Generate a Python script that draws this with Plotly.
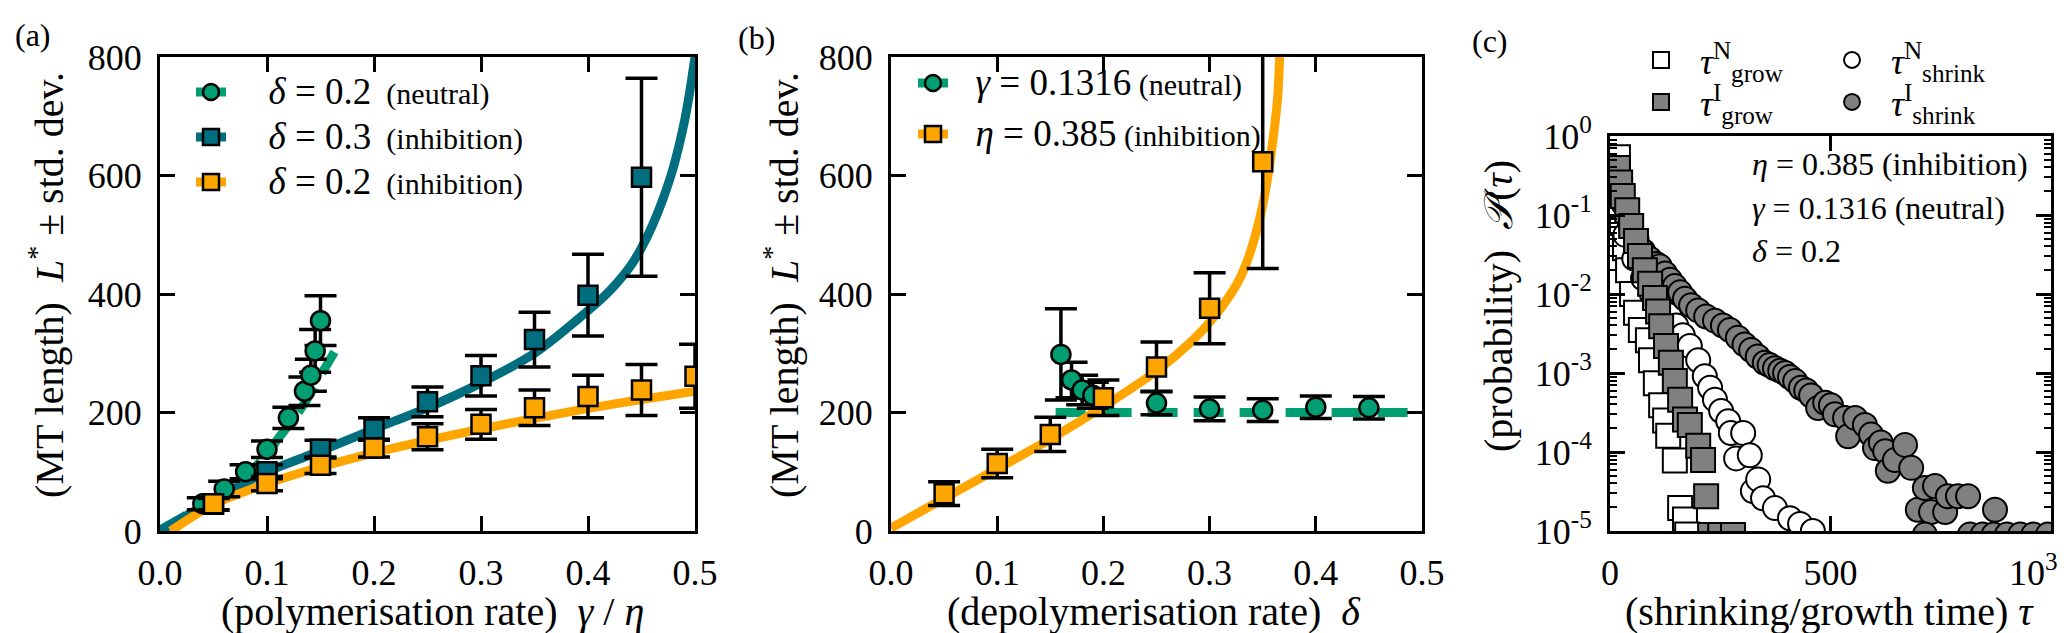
import plotly.graph_objects as go

FONT = "Liberation Serif"
GREEN = "#009e73"
TEAL = "#006e7f"
ORANGE = "#ffa500"
GREY = "#808080"

# ---- panel (a): L* vs gamma/eta ----
a_neu_x = [0.04, 0.06, 0.08, 0.10, 0.12, 0.135, 0.141, 0.145, 0.15]
a_neu_y = [46, 71, 100, 138, 191, 236, 263, 304, 355]
a_neu_err = [10, 13, 12, 14, 18, 24, 27, 36, 42]
a_neu_fit_x = [0, 0.02, 0.04, 0.06, 0.08, 0.10, 0.11, 0.12, 0.13, 0.14, 0.15, 0.163]
a_neu_fit_y = [2, 22, 44, 66, 92, 130, 155, 178, 202, 230, 262, 302]

a_inh3_x = [0.05, 0.10, 0.15, 0.20, 0.25, 0.30, 0.35, 0.40, 0.45]
a_inh3_y = [45, 100, 138, 172, 218, 262, 323, 398, 597]
a_inh3_err = [10, 12, 15, 19, 25, 34, 46, 69, 167]
a_inh3_fit_x = [0, 0.05, 0.10, 0.15, 0.20, 0.25, 0.30, 0.35, 0.40, 0.42, 0.44, 0.45, 0.46,
                0.47, 0.48, 0.49, 0.495, 0.5]
a_inh3_fit_y = [0, 52, 100, 135, 172, 208, 250, 300, 372, 405, 448, 478, 515, 560, 615,
                690, 740, 800]

a_inh2_x = [0.05, 0.10, 0.15, 0.20, 0.25, 0.30, 0.35, 0.40, 0.45, 0.50]
a_inh2_y = [46, 80, 111, 140, 159, 180, 208, 227, 238, 261]
a_inh2_err = [10, 12, 14, 15, 22, 25, 30, 36, 43, 54]
a_inh2_fit_x = [0.01, 0.05, 0.10, 0.15, 0.20, 0.25, 0.30, 0.35, 0.40, 0.45, 0.50]
a_inh2_fit_y = [0, 45, 80, 108, 132, 153, 172, 190, 207, 222, 236]

# ---- panel (b): L* vs delta ----
b_neu_x = [0.16, 0.17, 0.18, 0.19, 0.25, 0.30, 0.35, 0.40, 0.45]
b_neu_y = [298, 255, 238, 229, 216, 206, 204, 209, 208]
b_neu_err = [77, 30, 25, 22, 20, 20, 19, 19, 19]
b_neu_fit_x = [0.155, 0.5]
b_neu_fit_y = [200, 200]

b_inh_x = [0.05, 0.10, 0.15, 0.20, 0.25, 0.30, 0.35]
b_inh_y = [63, 114, 163, 225, 277, 376, 623]
b_inh_err = [20, 24, 29, 30, 42, 60, 180]
b_inh_fit_x = [0, 0.05, 0.10, 0.15, 0.20, 0.25, 0.28, 0.30, 0.32, 0.33, 0.34, 0.35, 0.355,
               0.36, 0.364, 0.366]
b_inh_fit_y = [5, 55, 105, 155, 210, 270, 315, 352, 400, 432, 480, 550, 600, 665, 730, 800]

# ---- panel (c): distributions of growth / shrink times ----
grow_n_tau = [18, 23, 27, 34, 41, 50, 59, 70, 86, 93, 104, 116, 125, 132, 147, 159, 170, 175]
grow_n_p = [5.4e-1, 1.7e-1, 7.9e-2, 3.8e-2, 2.0e-2, 1.0e-2, 5.8e-3, 3.5e-3, 2.6e-3, 1.45e-3,
            7.4e-4, 3.9e-4, 2.5e-4, 1.6e-4, 7.8e-5, 1.95e-5, 1.4e-5, 9e-6]

grow_i_tau = [18, 23, 29, 39, 48, 59, 68, 79, 91, 102, 109, 116, 127, 138, 147, 159, 170,
              181, 200, 211, 218, 227, 250, 279]
grow_i_p = [0.394, 0.257, 0.174, 0.115, 0.0724, 0.0468, 0.0302, 0.0200, 0.0135, 0.0089,
            0.0060, 0.0039, 0.00219, 0.00135, 7.9e-4, 4.57e-4, 2.57e-4, 2.19e-4, 1.2e-4,
            7.9e-5, 2.75e-5, 8.9e-6, 8.9e-6, 8.9e-6]

shrink_n_tau = [18, 35, 55, 75, 95, 115, 134, 150, 165, 181, 200, 215, 227, 238, 252, 268,
                274, 286, 302, 317, 324, 336, 347, 374, 408, 431, 460]
shrink_n_p = [0.126, 0.056, 0.028, 0.0158, 0.010, 0.0071, 0.0054, 0.0040, 0.0030, 0.0022,
              1.45e-3, 9.1e-4, 6.5e-4, 4.6e-4, 3.3e-4, 2.45e-4, 1.74e-4, 8.3e-5, 1.74e-4,
              9.1e-5, 3.2e-5, 4.5e-5, 2.6e-5, 1.95e-5, 1.45e-5, 1.23e-5, 1.0e-5]

shrink_i_tau = [18, 30, 45, 60, 75, 90, 105, 113, 125, 136, 147, 159, 170, 184, 200, 218,
                238, 256, 272, 290, 305, 320, 335, 351, 362, 374, 386, 397, 408, 420, 433,
                445, 456, 472, 488, 501, 510, 533, 540, 556, 578, 592, 601, 614, 624, 630,
                646, 669, 683, 698, 714, 728, 737, 760, 766, 789, 812, 873,
                714, 816, 845, 870, 900, 930, 960, 993]
shrink_i_p = [0.28, 0.14, 0.079, 0.050, 0.035, 0.028, 0.024, 0.0224, 0.0182, 0.0151, 0.0126,
              0.0105, 0.0087, 0.0072, 0.0062, 0.0052, 0.0046, 0.0040, 0.0035, 0.0028, 0.0023,
              1.95e-3, 1.62e-3, 1.35e-3, 1.26e-3, 1.15e-3, 1.07e-3, 1.0e-3, 8.9e-4, 7.9e-4,
              6.5e-4, 6.0e-4, 5.2e-4, 3.6e-4, 4.2e-4, 3.9e-4, 3.0e-4, 2.7e-4, 1.58e-4,
              2.7e-4, 2.2e-4, 1.66e-4, 1.12e-4, 1.32e-4, 1.02e-4, 5.8e-5, 7.9e-5, 1.23e-4,
              6.3e-5, 1.86e-5, 3.5e-5, 1.74e-5, 3.7e-5, 1.74e-5, 2.75e-5, 2.75e-5, 2.75e-5,
              1.86e-5, 9e-6, 9e-6, 9e-6, 9e-6, 9e-6, 9e-6, 9e-6, 9e-6]

c_xtick_vals = [0, 500, 1000]
c_xtick_text = ["0", "500", ""]  # the 10^3 label is written next to the axis end

fig = go.Figure()


def fit_trace(x, y, color, sym, name, xa, ya, legend, group, dash="solid"):
    # curve carries the legend entry; its own markers are hidden via selection
    return go.Scatter(
        x=x, y=y, mode="lines+markers", name=name, legend=legend, legendgroup=group,
        xaxis=xa, yaxis=ya,
        line=dict(color=color, width=9, dash=dash, shape="spline", smoothing=0.8),
        marker=dict(symbol=sym, size=18, color=color, line=dict(color="black", width=2.5)),
        selectedpoints=[], unselected=dict(marker=dict(opacity=0)),
    )


def data_trace(x, y, err, color, sym, xa, ya):
    return go.Scatter(
        x=x, y=y, mode="markers", showlegend=False, xaxis=xa, yaxis=ya,
        marker=dict(symbol=sym, size=19, color=color, line=dict(color="black", width=2.5)),
        error_y=dict(type="data", array=err, color="black", thickness=3.5, width=16),
    )


NB = "\u00a0"
DASH = "30px,16px"


def lab(math, note, pad, gap=2):
    return NB * pad + "<span style='font-size:37px'>" + math + "</span>" + NB * gap + note


fig.add_trace(fit_trace(a_neu_fit_x, a_neu_fit_y, GREEN, "circle",
                        lab("<i>δ</i> = 0.2", "(neutral)", 5), "x", "y", "legend", "a1", dash=DASH))
fig.add_trace(fit_trace(a_inh3_fit_x, a_inh3_fit_y, TEAL, "square",
                        lab("<i>δ</i> = 0.3", "(inhibition)", 5), "x", "y", "legend", "a2"))
fig.add_trace(fit_trace(a_inh2_fit_x, a_inh2_fit_y, ORANGE, "square",
                        lab("<i>δ</i> = 0.2", "(inhibition)", 5), "x", "y", "legend", "a3"))
fig.add_trace(data_trace(a_neu_x, a_neu_y, a_neu_err, GREEN, "circle", "x", "y"))
fig.add_trace(data_trace(a_inh3_x, a_inh3_y, a_inh3_err, TEAL, "square", "x", "y"))
fig.add_trace(data_trace(a_inh2_x, a_inh2_y, a_inh2_err, ORANGE, "square", "x", "y"))

fig.add_trace(fit_trace(b_neu_fit_x, b_neu_fit_y, GREEN, "circle",
                        lab("<i>γ</i> = 0.1316", "(neutral)", 3, 1), "x2", "y2", "legend2", "b1",
                        dash=DASH))
fig.add_trace(fit_trace(b_inh_fit_x, b_inh_fit_y, ORANGE, "square",
                        lab("<i>η</i> = 0.385", "(inhibition)", 3, 1), "x2", "y2", "legend2", "b2"))
fig.add_trace(data_trace(b_neu_x, b_neu_y, b_neu_err, GREEN, "circle", "x2", "y2"))
fig.add_trace(data_trace(b_inh_x, b_inh_y, b_inh_err, ORANGE, "square", "x2", "y2"))


def dist_trace(x, y, sym, fill, name, legend, rank):
    return go.Scatter(
        x=x, y=y, mode="markers", name=name, legend=legend, legendrank=rank,
        xaxis="x3", yaxis="y3",
        marker=dict(symbol=sym, size=24, color=fill, line=dict(color="black", width=2)),
    )


fig.add_trace(dist_trace(grow_n_tau, grow_n_p, "square", "white",
                         "<i>τ</i><sup>N</sup><sub>grow</sub>", "legend3", 1))
fig.add_trace(dist_trace(shrink_n_tau, shrink_n_p, "circle", "white",
                         "<i>τ</i><sup>N</sup><sub>shrink</sub>", "legend3", 2))
fig.add_trace(dist_trace(shrink_i_tau, shrink_i_p, "circle", GREY,
                         "<i>τ</i><sup>I</sup><sub>shrink</sub>", "legend4", 2))
fig.add_trace(dist_trace(grow_i_tau, grow_i_p, "square", GREY,
                         "<i>τ</i><sup>I</sup><sub>grow</sub>", "legend4", 1))

W, H = 2067, 633
tickfont = dict(family=FONT, size=36, color="black")


def axis(**kw):
    d = dict(showline=True, linecolor="black", linewidth=3, mirror="allticks",
             ticks="inside", ticklen=15, tickwidth=2.5, tickcolor="black",
             showgrid=False, zeroline=False, tickfont=tickfont, ticklabelstandoff=8,
             automargin=False, ticklabeloverflow="allow")
    d.update(kw)
    return d


ydom = [1 - 523 / H, 1 - 49 / H]
legfont = dict(family=FONT, size=30, color="black")
fig.update_layout(
    width=W, height=H, margin=dict(l=0, r=0, t=0, b=0, autoexpand=False),
    paper_bgcolor="white", plot_bgcolor="white",
    font=dict(family=FONT, color="black"),
    xaxis=axis(domain=[152 / W, 687 / W], range=[0, 0.5], dtick=0.1, tickformat=".1f", anchor="y"),
    yaxis=axis(domain=ydom, range=[0, 800], dtick=200, anchor="x"),
    xaxis2=axis(domain=[883 / W, 1414 / W], range=[0, 0.5], dtick=0.1, tickformat=".1f", anchor="y2"),
    yaxis2=axis(domain=ydom, range=[0, 800], dtick=200, anchor="x2"),
    xaxis3=axis(domain=[1602 / W, 2043 / W], range=[0, 1000], tickvals=c_xtick_vals,
                ticktext=c_xtick_text, anchor="y3"),
    yaxis3=axis(domain=[1 - 523 / H, 1 - 128 / H], type="log", range=[-5, 0],
                tickvals=[1, 1e-1, 1e-2, 1e-3, 1e-4, 1e-5],
                ticktext=["10<sup>0</sup>", "10<sup>-1</sup>", "10<sup>-2</sup>",
                          "10<sup>-3</sup>", "10<sup>-4</sup>", "10<sup>-5</sup>"],
                minor=dict(ticks="inside", ticklen=7, tickwidth=1.5, tickcolor="black",
                           tickvals=[k * 10.0 ** e for e in range(-5, 0) for k in range(2, 10)]),
                anchor="x3"),
    legend=dict(x=183 / W, y=1 - 58 / H, xanchor="left", yanchor="top", bgcolor="rgba(0,0,0,0)",
                font=legfont, tracegroupgap=3),
    legend2=dict(x=905 / W, y=1 - 49 / H, xanchor="left", yanchor="top", bgcolor="rgba(0,0,0,0)",
                 font=legfont, tracegroupgap=9),
    legend3=dict(x=1614 / W, y=1 - 22 / H, xanchor="left", yanchor="top", orientation="h",
                 entrywidth=108, itemwidth=68, bgcolor="rgba(0,0,0,0)",
                 font=dict(family=FONT, size=36, color="black")),
    legend4=dict(x=1614 / W, y=1 - 64 / H, xanchor="left", yanchor="top", orientation="h",
                 entrywidth=108, itemwidth=68, bgcolor="rgba(0,0,0,0)",
                 font=dict(family=FONT, size=36, color="black")),
)

ann = dict(xref="paper", yref="paper", showarrow=False)
texts = [
    ("(a)", 25, 27, 0, "center", 32),
    ("(b)", 748, 30, 0, "center", 32),
    ("(c)", 1482, 33, 0, "center", 32),
    ("(MT length)  <i>L</i><sup>*</sup> ± std. dev.", 38, 277, -90, "center", 40),
    ("(MT length)  <i>L</i><sup>*</sup> ± std. dev.", 773, 277, -90, "center", 40),
    ("(probability)  <i>𝒫</i>(<i>τ</i>)", 1490, 298, -90, "center", 40),
    ("(polymerisation rate)  <i>γ</i> / <i>η</i>", 424, 603, 0, "center", 40),
    ("(depolymerisation rate)  <i>δ</i>", 1146, 603, 0, "center", 40),
    ("(shrinking/growth time) <i>τ</i>", 1821, 603, 0, "center", 40),
    ("<i>η</i> = 0.385 (inhibition)", 1742, 156, 0, "left", 32),
    ("<i>γ</i> = 0.1316 (neutral)", 1742, 200, 0, "left", 32),
    ("<i>δ</i> = 0.2", 1742, 243, 0, "left", 32),
    ("10<sup>3</sup>", 2052, 562, 0, "right", 36),
]
for t, px, py, ang, anc, fs in texts:
    fig.add_annotation(text=t, x=px / W, y=1 - py / H, textangle=ang, xanchor=anc,
                       yanchor="middle", font=dict(family=FONT, size=fs, color="black"), **ann)

fig.write_html("out.html")
